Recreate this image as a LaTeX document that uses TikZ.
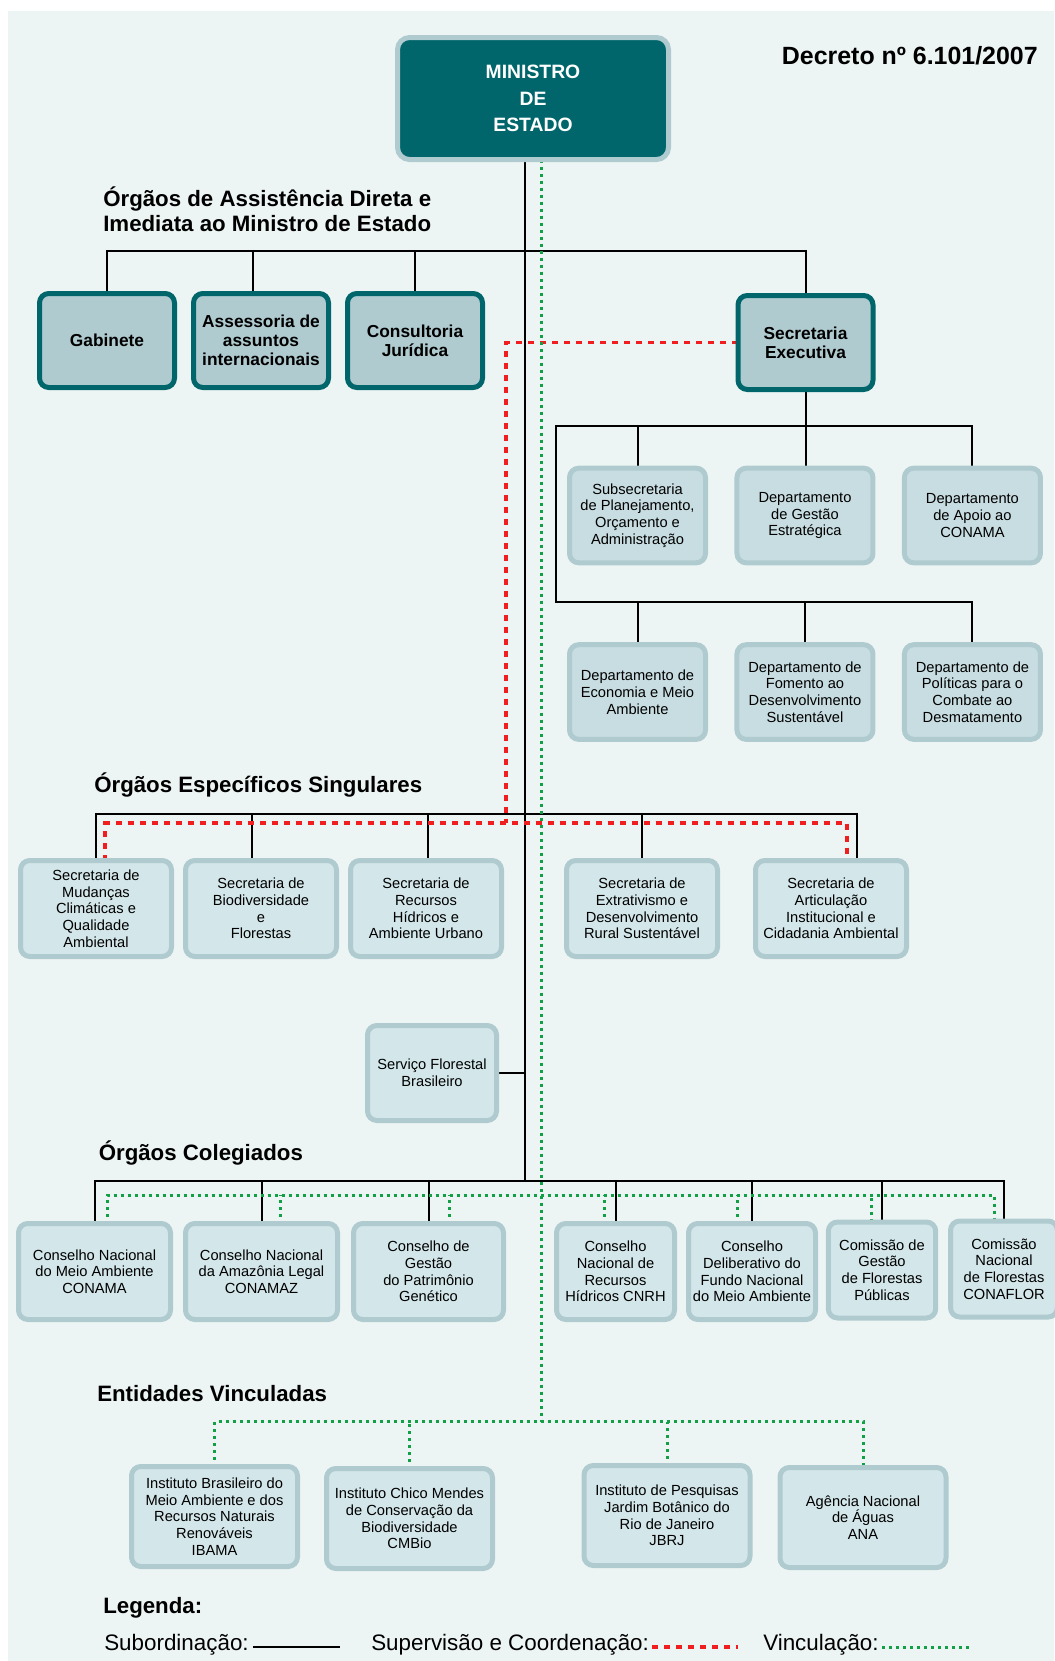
\documentclass[tikz,border=0pt]{standalone}
\usepackage{fontspec}
\setmainfont{Liberation Sans}
\usetikzlibrary{positioning,backgrounds}
\definecolor{fundocol}{HTML}{EDF5F4}
\definecolor{petroleo}{HTML}{00666B}
\definecolor{azulcinza}{HTML}{AFCBD0}
\definecolor{clarocol}{HTML}{D3E6EA}
\definecolor{deptocol}{HTML}{C8DDE1}
\definecolor{vermelho}{HTML}{F01E1E}
\definecolor{verde}{HTML}{12A047}

\begin{document}
\begin{tikzpicture}[
  x=0.75pt, y=-0.75pt,
  box/.style={align=center, inner sep=0.5pt, outer sep=0pt, rounded corners=7pt, line width=3.75pt},
  minis/.style={box, fill=petroleo, draw=azulcinza, text=white, rounded corners=9pt,
                font=\fontsize{14.5}{19.9}\selectfont\bfseries, minimum width=203.25pt, minimum height=91.5pt},
  chefe/.style={box, fill=azulcinza, draw=petroleo, font=\fontsize{13}{14.3}\selectfont\bfseries,
                minimum width=101.25pt, minimum height=70.5pt},
  depto/.style={box, fill=deptocol, draw=azulcinza, font=\fontsize{11}{12.6}\selectfont,
                minimum width=102pt, minimum height=71pt},
  orgao/.style={box, fill=clarocol, draw=azulcinza, font=\fontsize{11}{12.5}\selectfont,
                minimum width=113.25pt, minimum height=72pt},
  colg/.style={orgao, minimum height=72pt},
  entid/.style={orgao, minimum width=124.5pt, minimum height=75pt},
  titulo/.style={anchor=west, inner sep=0pt, align=left, font=\fontsize{16.7}{18.75}\selectfont\bfseries},
  legtxt/.style={anchor=west, inner sep=0pt, font=\fontsize{16.8}{18}\selectfont},
  subord/.style={line width=1.5pt},
  superv/.style={vermelho, line width=2.4pt, dash pattern=on 4.5pt off 4.5pt},
  vinc/.style={verde, line width=2.25pt, dash pattern=on 2.25pt off 3pt}
]
\useasboundingbox (0,0) rectangle (1054,1661);

% topo
\node[minis] (min) at (533,98.5) {MINISTRO\\DE\\ESTADO};
\node[anchor=east, inner sep=0pt, font=\fontsize{18.7}{20}\selectfont\bfseries] (decreto) at (1038,56) {Decreto nº 6.101/2007};

% assistencia direta
\node[titulo] (tassist) at (103,209.5) {Órgãos de Assistência Direta e\\Imediata ao Ministro de Estado};
\node[chefe] (gab) at (107,340.5) {Gabinete};
\node[chefe, right=14.25pt of gab] (asse) {Assessoria de\\assuntos\\internacionais};
\node[chefe, right=14.25pt of asse] (cons) {Consultoria\\Jurídica};
\node[chefe] (secex) at (805.5,342.5) {Secretaria\\Executiva};

% secretaria executiva
\node[depto] (subsec) at (637.5,515.5) {Subsecretaria\\de Planejamento,\\Orçamento e\\Administração};
\node[depto, right=23.6pt of subsec] (gest) {Departamento\\de Gestão\\Estratégica};
\node[depto, right=23.6pt of gest] (apoio) {Departamento\\de Apoio ao\\CONAMA};
\node[depto, below=61.4pt of subsec] (econ) {Departamento de\\Economia e Meio\\Ambiente};
\node[depto, right=23.6pt of econ] (fomen) {Departamento de\\Fomento ao\\Desenvolvimento\\Sustentável};
\node[depto, right=23.6pt of fomen] (polit) {Departamento de\\Políticas para o\\Combate ao\\Desmatamento};

% especificos singulares
\node[titulo] (tesp) at (94,785) {Órgãos Específicos Singulares};
\node[orgao] (mud) at (96,908.5) {Secretaria de\\Mudanças\\Climáticas e\\Qualidade\\Ambiental};
\node[orgao, right=10.5pt of mud] (biod) {Secretaria de\\Biodiversidade\\e\\Florestas};
\node[orgao, right=10.5pt of biod] (recur) {Secretaria de\\Recursos\\Hídricos e\\Ambiente Urbano};
\node[orgao] (extr) at (642,908.5) {Secretaria de\\Extrativismo e\\Desenvolvimento\\Rural Sustentável};
\node[orgao, right=28.5pt of extr] (artic) {Secretaria de\\Articulação\\Institucional e\\Cidadania Ambiental};
\node[orgao, minimum width=96.75pt, minimum height=71.25pt] (sfb) at (432,1073) {Serviço Florestal\\Brasileiro};

% colegiados
\node[titulo] (tcol) at (98.5,1152.5) {Órgãos Colegiados};
\node[colg, minimum width=114pt] (conama) at (94.5,1271.5) {Conselho Nacional\\do Meio Ambiente\\CONAMA};
\node[colg, minimum width=114pt] (conamaz) at (261.5,1271.5) {Conselho Nacional\\da Amazônia Legal\\CONAMAZ};
\node[colg, minimum width=112.5pt] (patri) at (428.5,1271.5) {Conselho de\\Gestão\\do Patrimônio\\Genético};
\node[colg, minimum width=88.5pt] (cnrh) at (615.5,1271.5) {Conselho\\Nacional de\\Recursos\\Hídricos CNRH};
\node[colg, minimum width=95.25pt] (fundo) at (752,1271.5) {Conselho\\Deliberativo do\\Fundo Nacional\\do Meio Ambiente};
\node[colg, minimum width=80.6pt] (cfp) at (882,1270) {Comissão de\\Gestão\\de Florestas\\Públicas};
\node[colg, minimum width=80.25pt] (conaflor) at (1004,1269) {Comissão\\Nacional\\de Florestas\\CONAFLOR};

% entidades vinculadas
\node[titulo] (tent) at (97,1394) {Entidades Vinculadas};
\node[entid] (ibama) at (214.5,1516.5) {Instituto Brasileiro do\\Meio Ambiente e dos\\Recursos Naturais\\Renováveis\\IBAMA};
\node[entid] (cmbio) at (409.5,1518.5) {Instituto Chico Mendes\\de Conservação da\\Biodiversidade\\CMBio};
\node[entid] (jbrj) at (667,1515.5) {Instituto de Pesquisas\\Jardim Botânico do\\Rio de Janeiro\\JBRJ};
\node[entid] (ana) at (863,1517.5) {Agência Nacional\\de Águas\\ANA};

% legenda
\node[titulo] (tleg) at (103,1608) {Legenda:};
\node[legtxt] (lsub) at (104,1645) {Subordinação:};
\node[legtxt] (lsup) at (371,1645) {Supervisão e Coordenação:};
\node[legtxt] (lvin) at (763,1645) {Vinculação:};

\coordinate (b1) at (525,251);
\coordinate (b2) at (556,426);
\coordinate (b3) at (556,602);
\coordinate (b4) at (525,813.5);
\coordinate (b5) at (525,1181);
\coordinate (r1) at (506,823);
\coordinate (g1) at (541,1195);
\coordinate (g2) at (541,1421.5);

\begin{scope}[on background layer]
\fill[fundocol] (8,11) rectangle (1054,1661);
% subordinacao
\draw[subord] ([xshift=-6pt]min.south) -- (b5);
\draw[subord] (gab.north) |- (b1) -| (secex.north);
\draw[subord] ([xshift=-6pt]asse.north) |- (b1);
\draw[subord] (cons.north) |- (b1);
\draw[subord] (secex.south) -- (secex.south |- gest.north);
\draw[subord] (apoio.north) |- (b2) -- (b3) -| (polit.north);
\draw[subord] (subsec.north) -- (subsec.north |- b2);
\draw[subord] (econ.north) -- (econ.north |- b3);
\draw[subord] (fomen.north) -- (fomen.north |- b3);
\draw[subord] (mud.north) |- (b4) -| ([xshift=19.5pt]artic.north);
\draw[subord] ([xshift=-6.75pt]biod.north) |- (b4);
\draw[subord] ([xshift=1.5pt]recur.north) |- (b4);
\draw[subord] (extr.north) |- (b4);
\draw[subord] (sfb.east) -- (sfb.east -| b4);
\draw[subord] (conama.north) |- (b5) -| (conaflor.north);
\foreach \n in {conamaz,patri,cnrh,fundo,cfp}
  \draw[subord] (\n.north) -- (\n.north |- b5);
% supervisao
\draw[superv] (secex.west) -| (r1);
\draw[superv] ([xshift=6.75pt]mud.north) |- (r1) -| ([xshift=12pt]artic.north);
% vinculacao
\draw[vinc] ([xshift=6pt]min.south) -- (g2);
\draw[vinc] ([xshift=9.4pt]conama.north) |- (g1) -| ([xshift=-7.5pt]conaflor.north);
\draw[vinc] ([xshift=13.9pt]conamaz.north) -- ([xshift=13.9pt]conamaz.north |- g1);
\draw[vinc] ([xshift=15.4pt]patri.north) -- ([xshift=15.4pt]patri.north |- g1);
\draw[vinc] ([xshift=-8.6pt]cnrh.north) -- ([xshift=-8.6pt]cnrh.north |- g1);
\draw[vinc] ([xshift=-11.25pt]fundo.north) -- ([xshift=-11.25pt]fundo.north |- g1);
\draw[vinc] ([xshift=-8.25pt]cfp.north) -- ([xshift=-8.25pt]cfp.north |- g1);
\draw[vinc] (ibama.north) |- (g2) -| (ana.north);
\draw[vinc] (cmbio.north) -- (cmbio.north |- g2);
\draw[vinc] (jbrj.north) -- (jbrj.north |- g2);
\end{scope}

% legenda linhas
\draw[subord] (lsub.east) ++(4,2) -- ++(87,0);
\draw[superv] (lsup.east) ++(3,2) -- ++(86,0);
\draw[vinc] (lvin.east) ++(3,2) -- ++(90,0);
\end{tikzpicture}
\end{document}
